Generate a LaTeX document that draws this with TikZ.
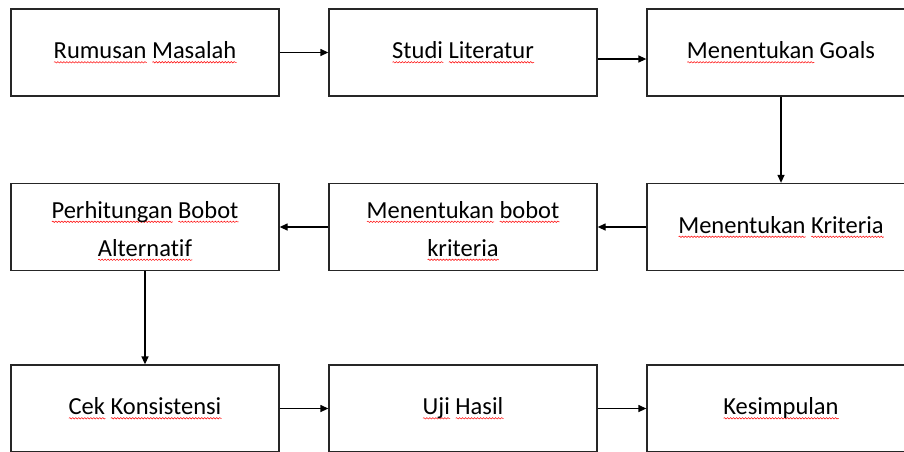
\documentclass[tikz,border=0pt]{standalone}
\usepackage{fontspec}
\setmainfont{Carlito}[Ligatures={NoCommon,NoRequired,NoContextual}]
\usepackage{xcolor}
\usetikzlibrary{arrows.meta,decorations.pathmorphing}

\newsavebox{\katabox}
\newcommand{\spell}[1]{\sbox{\katabox}{#1}\rlap{\tikz[baseline=0pt]\draw[red,line width=0.5pt,decorate,decoration={snake,amplitude=0.7pt,segment length=3pt}] (0pt,-3.5pt) -- (\the\wd\katabox,-3.5pt);}\usebox{\katabox}}

\begin{document}
\begin{tikzpicture}[x=1pt,y=-1pt,
        kotak/.style={draw=black!85,line width=1.3pt,minimum width=268pt,minimum height=87pt,inner sep=0pt,align=center,font=\fontsize{24.5}{38}\selectfont},
        panah/.style={line width=1.3pt,-{Triangle[length=8pt,width=7pt]}}]
        \useasboundingbox (0,0) rectangle (904,451);
        \clip (0,0) rectangle (904,451);
        % baris atas
        \node[kotak] (rumusan) at (145,52.5) {\spell{Rumusan} \spell{Masalah}};
        \node[kotak] (studi) at (463,52.5) {\spell{Studi} \spell{Literatur}};
        \node[kotak] (goals) at (781,52.5) {\spell{Menentukan} Goals};
        % baris tengah
        \node[kotak] (perhitungan) at (145,227) {\rule{0pt}{25pt}\spell{Perhitungan} \spell{Bobot}\\\spell{Alternatif}};
        \node[kotak] (bobot) at (463,227) {\rule{0pt}{25pt}\spell{Menentukan} \spell{bobot}\\\spell{kriteria}};
        \node[kotak] (kriteria) at (781,227) {\spell{Menentukan} \spell{Kriteria}};
        % baris bawah
        \node[kotak] (cek) at (145,408.5) {\spell{Cek} \spell{Konsistensi}};
        \node[kotak] (uji) at (463,408.5) {\spell{Uji} \spell{Hasil}};
        \node[kotak] (kesimpulan) at (781,408.5) {\spell{Kesimpulan}};

        \draw[panah] (rumusan) -- (studi);
        \draw[panah] ([yshift=-6.5pt]studi.east) -- ([yshift=-6.5pt]goals.west);
        \draw[panah] (goals) -- (kriteria);
        \draw[panah] (kriteria) -- (bobot);
        \draw[panah] (bobot) -- (perhitungan);
        \draw[panah] (perhitungan) -- (cek);
        \draw[panah] (cek) -- (uji);
        \draw[panah] (uji) -- (kesimpulan);
    \end{tikzpicture}
\end{document}
